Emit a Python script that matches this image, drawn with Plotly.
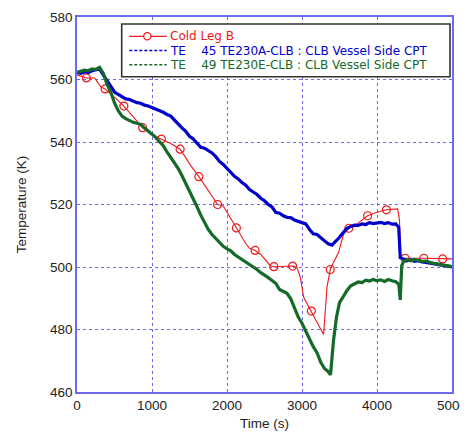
import plotly.graph_objects as go

# ---- Cold Leg B (red, open circle markers every 250 s) ----
red_t = [0, 125, 235, 320, 375, 450, 500, 560, 625, 700, 750, 875, 950, 1000, 1125,
         1250, 1375, 1450, 1500, 1625, 1750, 1875, 1950, 2000, 2050, 2125, 2200, 2250,
         2300, 2375, 2450, 2500, 2575, 2625, 2750, 2875, 2933, 2978, 3022, 3125, 3200,
         3288, 3333, 3377, 3400, 3488, 3555, 3625, 3733, 3875, 4000, 4125, 4275, 4300,
         4310, 4333, 4375, 4625, 4875, 5000]
red_T = [561.5, 560.5, 560.5, 557.6, 557.0, 555.5, 554.5, 553.0, 551.5, 549.5, 548.0,
         544.6, 543.2, 542.5, 540.9, 539.5, 537.7, 535.0, 533.0, 528.9, 524.5, 520.0,
         519.5, 517.5, 515.5, 512.5, 509.5, 507.5, 506.0, 505.3, 504.0, 502.5, 500.5,
         500.1, 500.2, 500.3, 499.8, 496.7, 490.3, 485.9, 482.3, 478.4, 493.5, 499.2,
         500.5, 504.7, 510.6, 512.4, 513.8, 516.4, 517.5, 518.3, 518.6, 515.0, 503.5,
         502.6, 502.8, 502.8, 502.6, 502.6]
red_marker_t = [125, 375, 625, 875, 1125, 1375, 1625, 1875, 2125, 2375, 2625, 2875,
                3125, 3377, 3625, 3875, 4125, 4375, 4625, 4875]

# ---- TE 45 TE230A-CLB (blue) ----
blue_t = [0, 50, 100, 150, 200, 250, 300, 350, 400, 450, 500, 550, 600, 650, 700, 750,
          800, 850, 900, 950, 1000, 1050, 1100, 1150, 1200, 1250, 1300, 1350, 1400, 1450,
          1500, 1550, 1600, 1650, 1700, 1750, 1800, 1850, 1900, 1950, 2000, 2050, 2100,
          2150, 2200, 2250, 2300, 2350, 2400, 2450, 2500, 2550, 2600, 2650, 2700, 2750,
          2800, 2850, 2900, 2950, 3000, 3050, 3100, 3150, 3200, 3250, 3300, 3350, 3400,
          3450, 3500, 3550, 3600, 3650, 3700, 3750, 3800, 3850, 3900, 3950, 4000, 4050,
          4100, 4150, 4200, 4250, 4290, 4310, 4350, 4400, 4450, 4500, 4550, 4600, 4650,
          4700, 4750, 4800, 4850, 4900, 4950, 5000]
blue_T = [562.3, 562.0, 562.5, 562.2, 562.8, 563.0, 563.4, 561.5, 559.7, 557.5, 556.0,
          555.2, 554.6, 553.8, 553.6, 553.0, 552.6, 552.4, 551.8, 551.5, 551.0, 550.4,
          550.1, 549.5, 548.8, 548.3, 547.0, 545.6, 544.5, 543.4, 541.8, 541.0, 539.6,
          538.3, 538.0, 537.3, 536.5, 535.3, 533.8, 532.8, 531.6, 530.2, 529.0, 528.2,
          527.0, 526.2, 524.8, 524.0, 523.2, 522.0, 521.2, 520.0, 519.2, 517.5, 517.2,
          516.4, 515.9, 515.8, 515.0, 514.6, 514.3, 513.8, 512.0, 510.6, 510.4, 509.4,
          508.5, 507.4, 507.0, 508.2, 509.5, 511.0, 512.4, 513.0, 513.4, 513.3, 513.8,
          513.6, 514.2, 513.9, 514.1, 514.3, 513.9, 514.2, 513.7, 513.8, 512.7, 503.0,
          502.6, 502.0, 502.3, 501.8, 502.0, 501.6, 501.5, 501.3, 501.0, 500.9, 500.6,
          500.5, 500.3, 500.0]

# ---- TE 49 TE230E-CLB (green) ----
green_t = [0, 50, 100, 150, 200, 250, 300, 350, 400, 450, 500, 550, 600, 650, 700, 750,
           800, 850, 900, 950, 1000, 1050, 1100, 1150, 1200, 1250, 1300, 1350, 1400, 1450,
           1500, 1550, 1600, 1650, 1700, 1750, 1800, 1850, 1900, 1950, 2000, 2050, 2100,
           2150, 2200, 2250, 2300, 2350, 2400, 2450, 2500, 2550, 2600, 2650, 2700, 2750,
           2800, 2850, 2900, 2950, 3000, 3050, 3100, 3150, 3200, 3250, 3300, 3350, 3380,
           3420, 3460, 3500, 3550, 3600, 3650, 3700, 3750, 3800, 3850, 3900, 3950, 4000,
           4050, 4100, 4150, 4200, 4250, 4290, 4310, 4330, 4360, 4400, 4450, 4500, 4550,
           4600, 4650, 4700, 4750, 4800, 4850, 4900, 4950, 5000]
green_T = [562.3, 562.6, 563.0, 562.8, 563.4, 563.2, 563.9, 562.0, 558.5, 556.0, 552.5,
           550.0, 548.3, 547.5, 546.9, 546.3, 546.0, 545.6, 544.5, 543.6, 542.5, 541.4,
           540.0, 538.8, 536.8, 535.0, 533.0, 531.5, 529.2, 526.8, 524.3, 522.0, 519.3,
           516.6, 514.2, 512.0, 510.4, 509.2, 508.0, 506.6, 505.8, 505.2, 504.0, 503.2,
           502.4, 501.6, 501.0, 500.0, 499.2, 498.2, 497.5, 496.6, 495.7, 494.8, 492.8,
           492.2, 491.6, 489.8, 487.0, 484.0, 482.0, 479.5, 477.0, 474.5, 472.6, 469.5,
           467.5, 466.5, 465.5, 476.5, 484.0, 488.6, 490.5, 492.5, 494.0, 494.6, 495.2,
           495.0, 495.8, 495.5, 496.0, 495.6, 495.9, 495.4, 496.0, 495.6, 495.3, 494.5,
           489.5, 500.5, 502.0, 502.3, 502.0, 502.4, 502.1, 501.8, 501.9, 501.5, 501.2,
           501.0, 500.8, 500.6, 500.4, 500.1]

x_ticks = [0, 1000, 2000, 3000, 4000, 5000]
y_ticks = [460, 480, 500, 520, 540, 560, 580]

series_names = [
    "Cold Leg B",
    "TE\u00a0\u00a0\u00a0\u00a045 TE230A-CLB : CLB Vessel Side CPT",
    "TE\u00a0\u00a0\u00a0\u00a049 TE230E-CLB : CLB Vessel Side CPT",
]

RED = "#f01818"
BLUE = "#0000cc"
GREEN = "#146a28"
FRAME = "#6b6bec"
FONT = "Liberation Sans"
LEG_FONT = "DejaVu Sans"

# page is shown with the browser's default 8px body margin
OFF = 8
W, H = 468 - OFF, 434 - OFF
ML, MR, MT, MB = 77 - OFF, 16, 17 - OFF, 42
PW, PH = W - ML - MR, H - MT - MB


def px_x(p):  # page pixel -> paper x
    return (p - OFF - ML) / PW


def px_y(p):  # page pixel -> paper y
    return (H - MB - (p - OFF)) / PH


mk_idx = [i for i, t in enumerate(red_t) if t in red_marker_t]
mk_x = [red_t[i] for i in mk_idx]
mk_y = [red_T[i] for i in mk_idx]

fig = go.Figure()
fig.add_trace(go.Scatter(x=red_t, y=red_T, mode="lines", name=series_names[0],
                         line=dict(color=RED, width=1.1), showlegend=False))
fig.add_trace(go.Scatter(x=mk_x, y=mk_y, mode="markers", name=series_names[0],
                         marker=dict(symbol="circle-open", size=8, color=RED, line=dict(width=1.2)),
                         showlegend=False))
fig.add_trace(go.Scatter(x=blue_t, y=blue_T, mode="lines", name=series_names[1],
                         line=dict(color=BLUE, width=3.2), showlegend=False))
fig.add_trace(go.Scatter(x=green_t, y=green_T, mode="lines", name=series_names[2],
                         line=dict(color=GREEN, width=3.2), showlegend=False))

# ---- legend drawn as a box with sample lines and coloured labels ----
box = dict(x0=px_x(121.7), x1=px_x(450), y0=px_y(76.7), y1=px_y(24))
rows_y = [36.3, 50.6, 64.8]
colors = [RED, BLUE, GREEN]
shapes = [dict(type="rect", xref="paper", yref="paper", layer="above",
               fillcolor="white", line=dict(color="#333333", width=1.6), **box)]
annotations = []
for i, (ry, c, nm) in enumerate(zip(rows_y, colors, series_names)):
    shapes.append(dict(type="line", xref="paper", yref="paper", layer="above",
                       x0=px_x(129.3), x1=px_x(166.7), y0=px_y(ry), y1=px_y(ry),
                       line=dict(color=c, width=1.3 if i == 0 else 1.5,
                                 dash="solid" if i == 0 else "3px,2px")))
    annotations.append(dict(xref="paper", yref="paper", x=px_x(168), y=px_y(ry),
                            xanchor="left", yanchor="middle", showarrow=False,
                            text=nm, font=dict(family=LEG_FONT, size=12, color=c)))
r = 3.6
shapes.append(dict(type="circle", xref="paper", yref="paper", layer="above",
                   x0=px_x(147.3 - r), x1=px_x(147.3 + r),
                   y0=px_y(rows_y[0] + r), y1=px_y(rows_y[0] - r),
                   fillcolor="white", line=dict(color=RED, width=1.2)))

axis_common = dict(
    showline=True, mirror=True, linecolor=FRAME, linewidth=1.5,
    showgrid=True, gridcolor=FRAME, griddash="dot", gridwidth=1,
    ticks="", zeroline=False, automargin=False,
    tickfont=dict(family=FONT, size=13.5, color="#222222"),
)

fig.update_layout(
    width=W, height=H,
    margin=dict(l=ML, r=MR, t=MT, b=MB, autoexpand=False),
    paper_bgcolor="white", plot_bgcolor="white",
    font=dict(family=FONT, size=13.5, color="#222222"),
    xaxis=dict(range=[0, 5000], tickvals=x_ticks, ticktext=[str(v) for v in x_ticks],
               title=dict(text="Time (s)", standoff=7, font=dict(size=13.5)), **axis_common),
    yaxis=dict(range=[460, 580], tickvals=y_ticks, ticktext=[str(v) for v in y_ticks],
               title=dict(text="Temperature (K)", standoff=20, font=dict(size=13.5)), **axis_common),
    showlegend=False,
    shapes=shapes,
    annotations=annotations,
)

fig.write_html("out.html")
